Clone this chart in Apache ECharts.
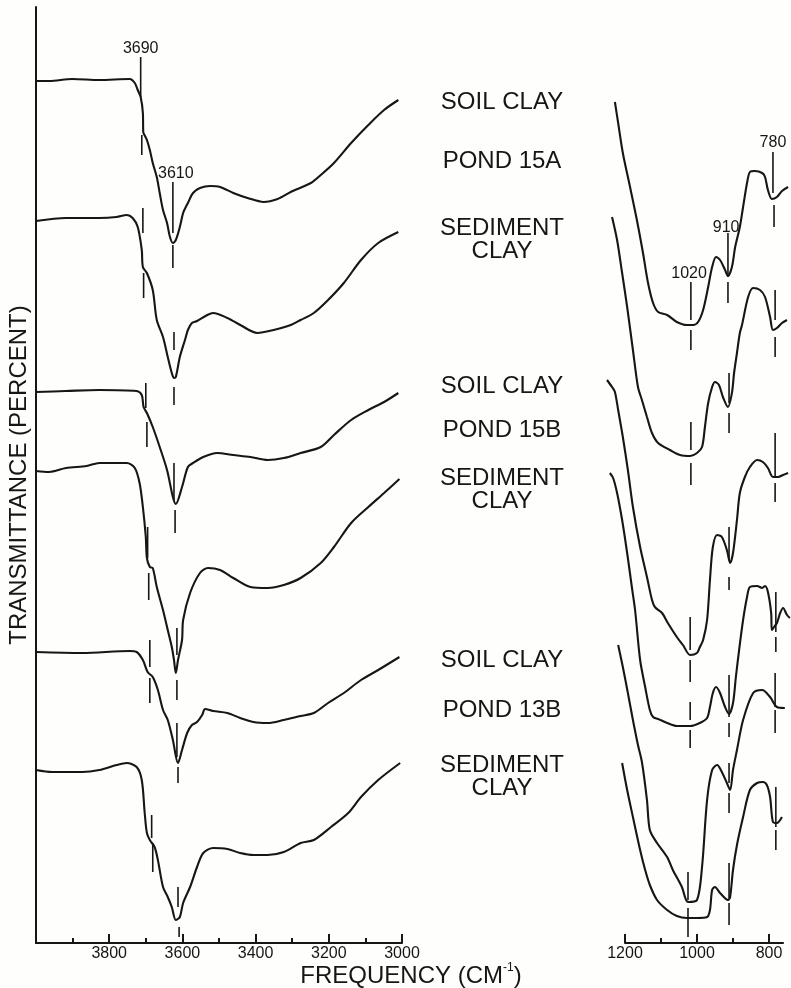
<!DOCTYPE html>
<html><head><meta charset="utf-8">
<script src="https://cdn.jsdelivr.net/npm/echarts@6/dist/echarts.min.js"></script>
<style>html,body{margin:0;padding:0;background:#fefefc}#c{width:791px;height:988px}</style>
</head><body><div id="c"></div>
<script>
// ---------- DATA (frequency cm-1, transmittance in arbitrary offset units) ----------
// O-H stretching region (left panel)
const soil15A_OH = [[4000,862],[3964,862],[3901,864],[3827,863],[3744,864],[3730,860],[3722,853],[3714,846],[3708,830],[3707,811],[3705,809],[3697,803],[3689,793],[3681,780],[3670,766],[3662,750],[3653,733],[3642,720],[3634,706],[3626,700],[3618,703],[3607,716],[3598,730],[3585,740],[3571,750],[3552,755],[3524,757],[3497,756],[3461,750],[3422,745],[3378,741],[3340,744],[3304,751],[3249,760],[3222,768],[3186,780],[3139,800],[3092,818],[3049,833],[3010,843]];
const sed15A_OH = [[4000,722],[3918,725],[3827,725],[3780,726],[3752,728],[3736,725],[3722,716],[3711,693],[3708,676],[3697,670],[3681,653],[3670,623],[3653,606],[3640,586],[3629,570],[3623,565],[3618,566],[3607,586],[3593,603],[3585,613],[3574,620],[3560,622],[3532,628],[3516,630],[3477,625],[3442,618],[3395,610],[3351,613],[3304,618],[3277,623],[3241,630],[3202,643],[3159,660],[3112,683],[3065,700],[3010,711]];
const soil15B_OH = [[4000,551],[3918,552],[3827,553],[3725,552],[3711,548],[3706,536],[3697,530],[3681,516],[3662,496],[3642,473],[3626,446],[3618,439],[3601,456],[3585,476],[3571,480],[3543,486],[3505,490],[3461,488],[3414,486],[3367,483],[3323,485],[3277,490],[3222,496],[3186,508],[3139,523],[3092,533],[3049,541],[3010,550]];
const sed15B_OH = [[4000,472],[3964,471],[3918,475],[3862,477],[3827,480],[3780,480],[3752,480],[3730,475],[3717,460],[3708,436],[3700,406],[3697,385],[3689,376],[3681,375],[3670,356],[3653,333],[3640,313],[3629,296],[3623,283],[3618,270],[3612,283],[3601,303],[3598,323],[3579,350],[3552,370],[3530,375],[3497,373],[3461,365],[3414,356],[3367,355],[3323,358],[3277,365],[3222,380],[3186,396],[3139,420],[3092,436],[3049,450],[3007,464]];
const soil13B_OH = [[4000,291],[3874,290],[3744,292],[3725,291],[3708,283],[3695,271],[3681,266],[3667,253],[3653,233],[3640,223],[3626,203],[3612,180],[3601,193],[3587,210],[3574,218],[3560,221],[3546,228],[3538,234],[3516,232],[3477,230],[3442,225],[3406,221],[3367,220],[3323,223],[3277,227],[3241,230],[3202,240],[3159,250],[3112,263],[3065,273],[3007,286]];
const sed13B_OH = [[4000,173],[3956,171],[3874,171],[3827,173],[3780,178],[3752,180],[3725,176],[3711,163],[3703,130],[3697,110],[3689,103],[3676,96],[3667,83],[3653,56],[3640,46],[3629,36],[3618,23],[3607,26],[3598,40],[3579,56],[3560,76],[3543,90],[3516,95],[3477,94],[3442,90],[3406,88],[3367,88],[3323,91],[3277,100],[3241,103],[3194,116],[3147,130],[3112,146],[3065,163],[3005,180]];

// Si-O region (right panel)
const soil15A_SiO = [[1228,841],[1219,820],[1206,790],[1186,756],[1167,723],[1150,690],[1136,660],[1122,640],[1108,631],[1083,628],[1056,621],[1028,618],[1011,618],[997,621],[983,633],[969,656],[958,676],[947,686],[936,683],[922,673],[914,667],[903,676],[894,696],[881,716],[872,736],[861,760],[853,771],[839,772],[819,770],[811,766],[803,753],[792,744],[778,746],[764,752],[747,756]];
const sed15A_SiO = [[1236,726],[1222,703],[1208,670],[1194,636],[1178,593],[1164,556],[1153,543],[1139,526],[1125,510],[1108,500],[1075,493],[1047,488],[1019,487],[1000,490],[986,496],[978,516],[969,540],[958,556],[950,561],[939,558],[928,546],[914,536],[903,550],[897,570],[889,590],[881,610],[875,618],[858,646],[844,655],[825,653],[811,646],[797,626],[789,613],[778,615],[764,620],[750,623]];
const soil15B_SiO = [[1250,563],[1236,556],[1228,551],[1219,533],[1206,506],[1192,473],[1178,436],[1158,396],[1139,366],[1125,343],[1117,336],[1097,330],[1081,320],[1056,306],[1039,298],[1019,288],[1000,290],[992,296],[983,303],[972,323],[964,363],[956,396],[944,408],[931,406],[917,393],[908,380],[900,390],[889,423],[881,450],[867,466],[853,476],[833,483],[817,481],[803,475],[789,466],[775,466],[761,468],[747,470]];
const sed15B_SiO = [[1242,470],[1233,465],[1222,450],[1208,423],[1194,390],[1181,356],[1172,333],[1158,283],[1144,256],[1131,233],[1122,226],[1108,224],[1083,220],[1056,217],[1019,217],[992,220],[972,225],[964,236],[956,250],[947,256],[936,250],[922,236],[911,229],[900,240],[892,266],[883,293],[872,323],[861,346],[853,356],[833,357],[819,355],[811,357],[803,351],[794,330],[792,313],[786,316],[778,320],[769,330],[761,335],[750,328],[742,325]];
const soil13B_SiO = [[1219,298],[1206,276],[1192,250],[1178,223],[1164,198],[1153,181],[1139,143],[1131,113],[1111,100],[1083,86],[1067,73],[1042,56],[1025,41],[1000,43],[986,76],[972,143],[958,173],[944,178],[931,171],[917,160],[908,153],[900,173],[889,193],[872,223],[844,250],[819,253],[797,246],[778,236],[756,235]];
const sed13B_SiO = [[1208,180],[1194,153],[1178,126],[1158,93],[1144,73],[1131,58],[1111,43],[1083,33],[1056,27],[1028,25],[1000,25],[972,26],[964,33],[958,53],[950,56],[936,50],[914,43],[908,46],[900,73],[889,98],[872,126],[853,153],[833,160],[817,161],[806,158],[797,146],[789,121],[778,120],[764,126]];

// band marker segments: [frequency, from, to]
const bandMarks_OH = [
  [3714,886,846],[3711,808,788],[3626,761,710],[3626,698,675],
  [3708,735,710],[3706,670,645],[3623,611,593],[3623,556,538],
  [3700,560,535],[3697,521,496],[3623,480,443],[3620,433,410],
  [3695,416,385],[3692,370,343],[3615,315,288],[3615,263,243],
  [3689,303,276],[3689,265,240],[3615,220,186],[3612,176,160],
  [3684,128,105],[3681,100,71],[3612,56,36],[3609,16,6]
];
const bandMarks_SiO = [
  [1017,661,623],[1017,613,593],[914,710,666],[914,661,640],[789,791,750],[786,738,716],
  [1017,521,493],[1017,480,458],[911,570,540],[911,530,510],[783,653,623],[783,606,586],
  [1019,326,293],[1019,283,261],[911,416,383],[911,366,353],[783,510,466],[783,460,441],
  [1019,241,223],[1019,213,195],[911,268,226],[911,220,206],[781,351,311],[781,306,291],
  [1025,71,43],[911,180,160],[911,150,130],[783,270,236],[783,233,210],
  [1025,35,6],[911,80,45],[911,40,18],[781,156,116],[781,113,93]
];
// band labels: [frequency, level, text]
const bandLabels_OH = [[3714,894,'3690'],[3618,769,'3610']];
const bandLabels_SiO = [[1022,669,'1020'],[919,715,'910'],[789,800,'780']];

// axis ticks
const leftTickLabels = [3800,3600,3400,3200,3000];
const rightMajorTicks = [1200,1000,800];
const rightMinorTicks = [1100,900];

// sample names
const sampleGroups = [
  ['SOIL CLAY','POND 15A','SEDIMENT','CLAY'],
  ['SOIL CLAY','POND 15B','SEDIMENT','CLAY'],
  ['SOIL CLAY','POND 13B','SEDIMENT','CLAY']
];
const yTitle = 'TRANSMITTANCE (PERCENT)';

// ---------- CHART ----------
const INK = '#161616';
const FF = '"Liberation Sans", Arial, Helvetica, sans-serif';
const chart = echarts.init(document.getElementById('c'), null, {renderer:'canvas'});

// right data grid: same scale as the right axis (0.36 px per cm-1) but wider so curves are not clipped
const R_PX = 0.36, R_LEFT = 625, R_MIN = 761, R_MAX = 1200, D_MIN = 740, D_MAX = 1260;

function lineSeries(data, xi, yi) {
  return {type:'line', data, xAxisIndex:xi, yAxisIndex:yi, showSymbol:false, smooth:0.3, clip:false,
    lineStyle:{color:INK, width:2.1}, silent:true, z:3};
}
function segSeries(data, xi, yi) {
  return {type:'custom', data, xAxisIndex:xi, yAxisIndex:yi, clip:false, silent:true, z:4,
    encode:{x:0, y:[1,2]},
    renderItem:(p, api) => {
      const a = api.coord([api.value(0), api.value(1)]);
      const b = api.coord([api.value(0), api.value(2)]);
      return {type:'line', shape:{x1:a[0], y1:a[1], x2:b[0], y2:b[1]}, style:{stroke:INK, lineWidth:1.6}};
    }};
}
function lblSeries(arr, xi, yi) {
  return {type:'custom', data:arr.map(d => [d[0], d[1]]), xAxisIndex:xi, yAxisIndex:yi, clip:false, silent:true, z:4,
    encode:{x:0, y:1},
    renderItem:(p, api) => {
      const c = api.coord([api.value(0), api.value(1)]);
      return {type:'text', x:c[0], y:c[1], style:{text:arr[p.dataIndex][2], fill:INK,
        font:'16px ' + FF, align:'center', verticalAlign:'middle', textAlign:'center', textVerticalAlign:'middle'}};
    }};
}

const sampleY = [[102,161,228,251],[386,430,478,501],[660,710,765,788]];
const graphics = [];
sampleGroups.forEach((g, gi) => g.forEach((t, ti) => {
  graphics.push({type:'text', x:502, y:sampleY[gi][ti], silent:true,
    style:{text:t, fill:INK, font:'24px ' + FF, align:'center', verticalAlign:'middle', textAlign:'center', textVerticalAlign:'middle'}});
}));
graphics.push({type:'text', x:411, y:975, silent:true,
  style:{text:'{a|FREQUENCY (CM}{s|-1}{a|)}', fill:INK, align:'center', verticalAlign:'middle', textAlign:'center', textVerticalAlign:'middle',
    rich:{a:{fontSize:24, fontFamily:FF, lineHeight:26, verticalAlign:'bottom', fill:INK}, s:{fontSize:12, fontFamily:FF, lineHeight:26, verticalAlign:'top', fill:INK}}}});

const option = {
  animation:false,
  backgroundColor:'#fefefc',
  grid:[
    {left:36, top:7, width:366, height:936},
    {left:R_LEFT, top:7, width:(R_MAX - R_MIN) * R_PX, height:936},
    {left:R_LEFT - (D_MAX - R_MAX) * R_PX, top:7, width:(D_MAX - D_MIN) * R_PX, height:936}
  ],
  xAxis:[
    {gridIndex:0, type:'value', min:3000, max:4000, inverse:true, interval:200,
      axisLine:{lineStyle:{color:INK, width:2}},
      axisTick:{inside:true, length:9, lineStyle:{color:INK, width:2}},
      minorTick:{show:true, splitNumber:2, length:5, lineStyle:{color:INK, width:2}},
      splitLine:{show:false}, minorSplitLine:{show:false},
      axisLabel:{color:INK, fontSize:16, fontFamily:FF, margin:3, showMaxLabel:false,
        formatter:v => leftTickLabels.includes(v) ? String(v) : ''}},
    {gridIndex:1, type:'value', min:R_MIN, max:R_MAX, inverse:true,
      axisLine:{lineStyle:{color:INK, width:2}},
      axisTick:{inside:true, length:9, customValues:rightMajorTicks, lineStyle:{color:INK, width:2}},
      splitLine:{show:false},
      axisLabel:{color:INK, fontSize:16, fontFamily:FF, margin:3, customValues:rightMajorTicks, formatter:v => String(v)}},
    {gridIndex:1, type:'value', min:R_MIN, max:R_MAX, inverse:true, position:'bottom',
      axisLine:{show:false},
      axisTick:{inside:true, length:5, customValues:rightMinorTicks, lineStyle:{color:INK, width:2}},
      splitLine:{show:false}, axisLabel:{show:false}},
    {gridIndex:2, type:'value', min:D_MIN, max:D_MAX, inverse:true, show:false}
  ],
  yAxis:[
    {gridIndex:0, type:'value', min:0, max:936,
      axisLine:{show:true, lineStyle:{color:INK, width:2}}, axisTick:{show:false}, axisLabel:{show:false}, splitLine:{show:false},
      name:yTitle, nameLocation:'middle', nameRotate:90, nameGap:5,
      nameTextStyle:{color:INK, fontSize:24, fontFamily:FF}},
    {gridIndex:1, type:'value', min:0, max:936, show:false},
    {gridIndex:2, type:'value', min:0, max:936, show:false}
  ],
  graphic:graphics,
  series:[
    lineSeries(soil15A_OH,0,0), lineSeries(sed15A_OH,0,0), lineSeries(soil15B_OH,0,0),
    lineSeries(sed15B_OH,0,0), lineSeries(soil13B_OH,0,0), lineSeries(sed13B_OH,0,0),
    lineSeries(soil15A_SiO,3,2), lineSeries(sed15A_SiO,3,2), lineSeries(soil15B_SiO,3,2),
    lineSeries(sed15B_SiO,3,2), lineSeries(soil13B_SiO,3,2), lineSeries(sed13B_SiO,3,2),
    segSeries(bandMarks_OH,0,0), segSeries(bandMarks_SiO,3,2),
    lblSeries(bandLabels_OH,0,0), lblSeries(bandLabels_SiO,3,2)
  ]
};
chart.setOption(option);
</script></body></html>
